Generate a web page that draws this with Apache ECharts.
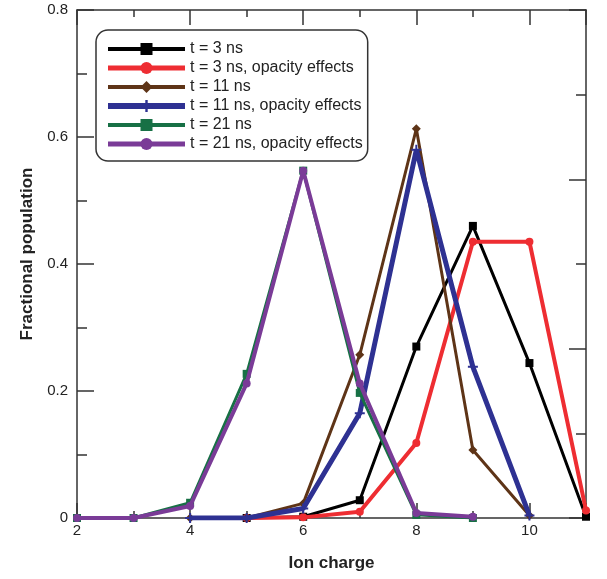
<!DOCTYPE html>
<html><head><meta charset="utf-8">
<script src="https://cdn.jsdelivr.net/npm/echarts@6/dist/echarts.min.js"></script>
<style>html,body{margin:0;padding:0;background:#fff}#c{width:607px;height:579px}</style>
</head><body><div id="c"></div>
<script>
const charges = [2, 3, 4, 5, 6, 7, 8, 9, 10, 11];
const names = ['t = 3 ns', 't = 3 ns, opacity effects', 't = 11 ns', 't = 11 ns, opacity effects', 't = 21 ns', 't = 21 ns, opacity effects'];
const t3 = [null, null, null, 0, 0.002, 0.028, 0.27, 0.46, 0.244, 0.002];
const t3op = [null, null, null, 0, 0.001, 0.01, 0.118, 0.435, 0.435, 0.012];
const t11 = [null, null, 0, 0, 0.023, 0.257, 0.613, 0.107, 0.004, null];
const t11op = [null, null, 0, 0, 0.015, 0.165, 0.58, 0.238, 0.004, null];
const t21 = [0, 0, 0.024, 0.227, 0.547, 0.197, 0.005, 0, null, null];
const t21op = [0, 0, 0.019, 0.212, 0.547, 0.212, 0.008, 0.002, null, null];
const xTicks = [2, 4, 6, 8, 10];
const yTicks = [0, 0.2, 0.4, 0.6, 0.8];

const seriesVals = [t3, t3op, t11, t11op, t21, t21op];
const colors = ['#000000', '#ee2d32', '#5e3417', '#2e3192', '#177045', '#7a3b97'];
const widths = [3, 4, 3, 5, 3, 4];
const plus = 'path://M4,0h2v4h4v2h-4v4h-2v-4h-4v-2h4z';
const symbols = ['rect', 'circle', 'diamond', plus, 'rect', 'circle'];
const sizes = [8, 8, 9, 10, 8, 8];
const font = 'Liberation Sans, Arial, sans-serif';

const chart = echarts.init(document.getElementById('c'), null, {renderer: 'canvas'});
const axisLine = {show: true, lineStyle: {color: '#333', width: 1.5}};
function xAx(pos, interval, len, labels, line) {
  return {
    type: 'value', position: pos, min: 2, max: 11, interval: interval,
    axisLine: line ? axisLine : {show: false},
    axisTick: {show: true, inside: true, length: len, lineStyle: {color: '#333', width: 1.5}},
    axisLabel: labels ? {show: true, color: '#222', fontSize: 15, fontFamily: font, margin: 5,
      formatter: v => xTicks.includes(v) ? String(v) : ''} : {show: false},
    splitLine: {show: false}
  };
}
const xAxes = [xAx('bottom', 1, 7, true, true), xAx('bottom', 2, 15, false, false), xAx('top', 1, 7, false, true), xAx('top', 2, 15, false, false)];
xAxes[0].name = 'Ion charge';
xAxes[0].nameLocation = 'middle';
xAxes[0].nameGap = 37;
xAxes[0].nameTextStyle = {fontSize: 17, fontWeight: 'bold', color: '#222', fontFamily: font};

const series = seriesVals.map((vals, i) => ({
  name: names[i], type: 'line', xAxisIndex: 0, yAxisIndex: 0,
  data: charges.map((c, j) => vals[j] === null ? null : [c, vals[j]]).filter(d => d !== null),
  symbol: symbols[i], symbolSize: sizes[i], showSymbol: true,
  lineStyle: {color: colors[i], width: widths[i]},
  itemStyle: {color: colors[i]},
  color: colors[i], animation: false, z: 2 + i
}));

chart.setOption({
  animation: false,
  grid: {left: 77, right: 21, top: 10, bottom: 61, containLabel: false},
  xAxis: xAxes,
  yAxis: [
    {type: 'value', position: 'left', min: 0, max: 0.8, interval: 0.2,
      axisLine: axisLine,
      axisTick: {show: true, inside: true, length: 17, lineStyle: {color: '#333', width: 1.5}},
      minorTick: {show: true, splitNumber: 2, length: 10, lineStyle: {color: '#333', width: 1.5}},
      axisLabel: {color: '#222', fontSize: 15, fontFamily: font, margin: 9,
        formatter: v => { const t = yTicks.find(x => Math.abs(x - v) < 1e-9); return t === undefined ? '' : String(t); }},
      splitLine: {show: false},
      name: 'Fractional population', nameLocation: 'middle', nameGap: 40, nameRotate: 90,
      nameTextStyle: {fontSize: 17, fontWeight: 'bold', color: '#222', fontFamily: font, padding: [0, 0, 0, 20]}},
    {type: 'value', position: 'right', min: 0, max: 3, interval: 1,
      axisLine: axisLine,
      axisTick: {show: true, inside: true, length: 17, lineStyle: {color: '#333', width: 1.5}},
      minorTick: {show: true, splitNumber: 2, length: 10, lineStyle: {color: '#333', width: 1.5}},
      axisLabel: {show: false}, splitLine: {show: false}}
  ],
  legend: {
    show: true, orient: 'vertical', left: 96, top: 30,
    data: names.map((n, i) => ({name: n, lineStyle: {width: widths[i] + 1, color: colors[i]}})),
    itemWidth: 77, itemHeight: 15, itemGap: 3,
    padding: [11, 5, 9, 9],
    borderColor: '#333', borderWidth: 1.5, borderRadius: 12, backgroundColor: '#fff',
    textStyle: {fontSize: 16, lineHeight: 16, color: '#222', fontFamily: font},
    selectedMode: false
  },
  series: series
});
</script></body></html>
